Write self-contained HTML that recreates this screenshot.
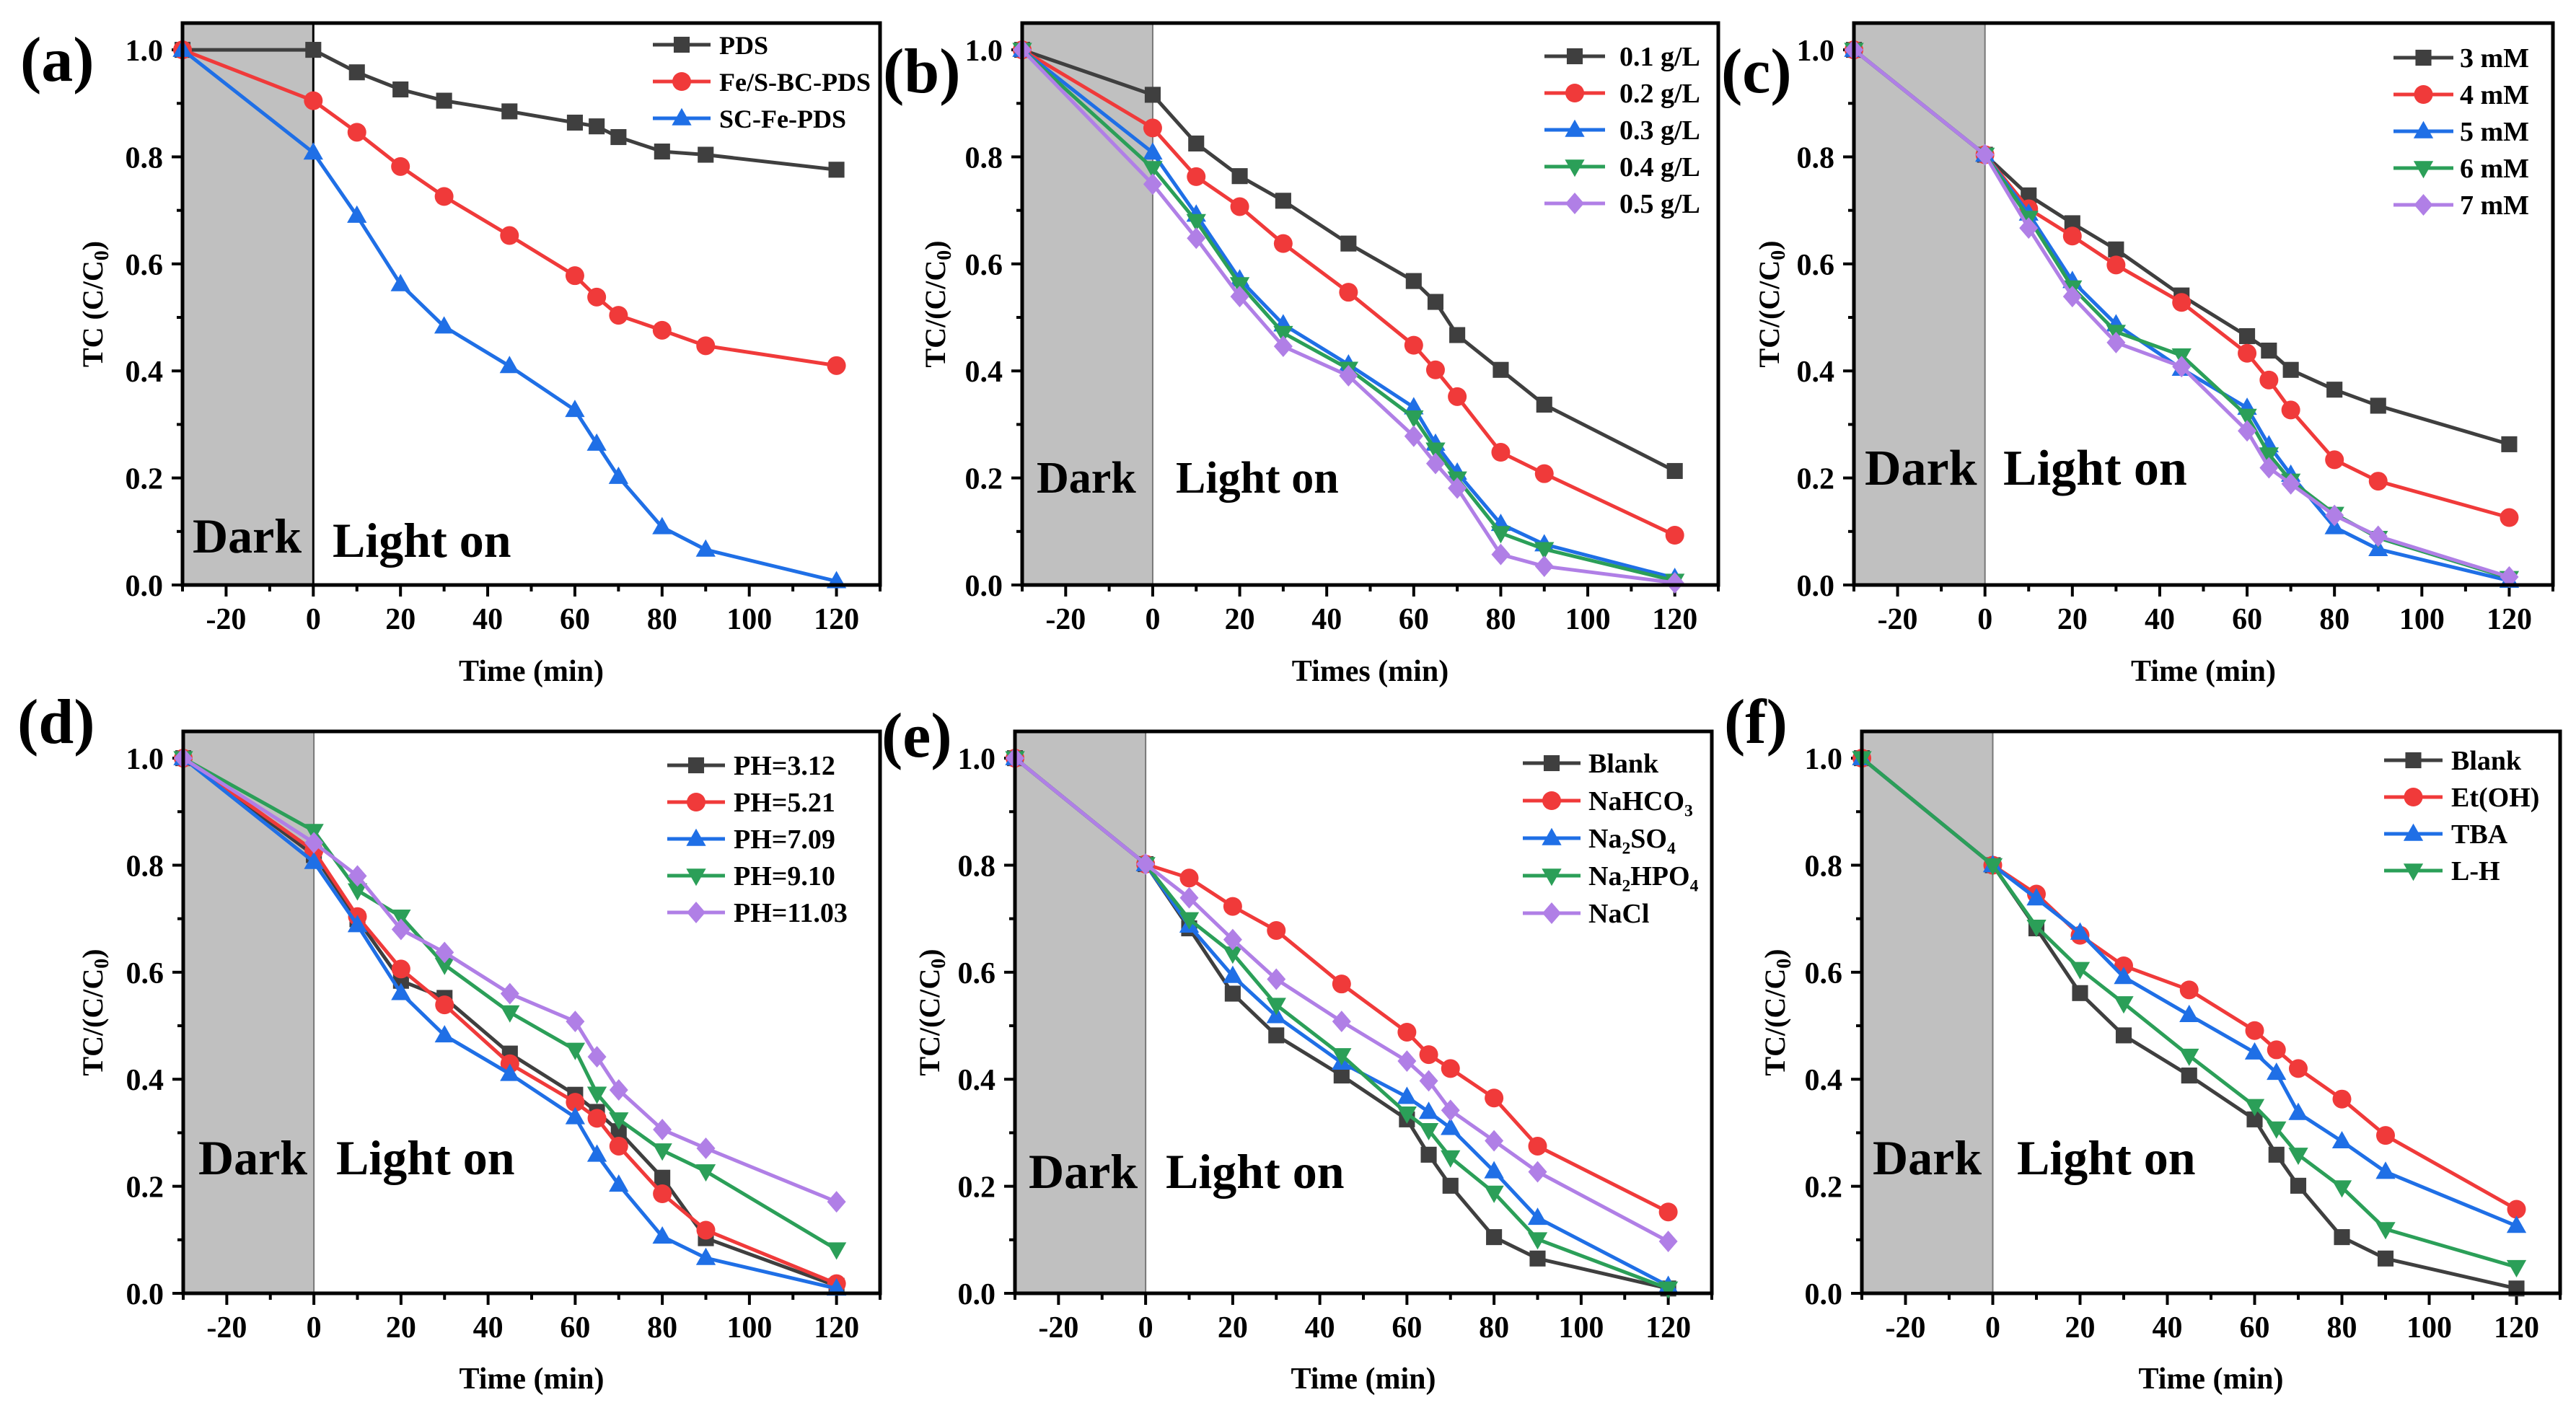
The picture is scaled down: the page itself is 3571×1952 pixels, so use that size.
<!DOCTYPE html>
<html><head><meta charset="utf-8">
<style>
html,body{margin:0;padding:0;background:#fff;}
svg{display:block;}
text{font-family:"Liberation Serif","Times New Roman",serif;font-weight:bold;fill:#000;}
</style></head>
<body>
<svg id="fig" width="3571" height="1952" viewBox="0 0 3571 1952" xmlns="http://www.w3.org/2000/svg"></svg>
<script>
// ---------- data ----------
const timePoints = [-30, 0, 10, 20, 30, 45, 60, 65, 70, 80, 90, 120];
const xTickLabels = ["-20", "0", "20", "40", "60", "80", "100", "120"];
const yTickLabels = ["0.0", "0.2", "0.4", "0.6", "0.8", "1.0"];

// (a)
const aPDS   = [1.0, 1.0, 0.958, 0.926, 0.905, 0.885, 0.864, 0.857, 0.837, 0.810, 0.804, 0.776];
const aFeSBC = [1.0, 0.905, 0.846, 0.782, 0.726, 0.653, 0.578, 0.538, 0.504, 0.476, 0.447, 0.410];
const aSCFe  = [1.0, 0.808, 0.690, 0.562, 0.483, 0.409, 0.327, 0.264, 0.202, 0.108, 0.066, 0.007];
// (b)
const b01 = [1.0, 0.916, 0.825, 0.764, 0.718, 0.638, 0.568, 0.529, 0.467, 0.402, 0.337, 0.213];
const b02 = [1.0, 0.854, 0.763, 0.707, 0.638, 0.547, 0.448, 0.402, 0.352, 0.248, 0.208, 0.093];
const b03 = [1.0, 0.808, 0.692, 0.571, 0.487, 0.412, 0.332, 0.264, 0.210, 0.114, 0.076, 0.013];
const b04 = [1.0, 0.779, 0.680, 0.562, 0.471, 0.404, 0.313, 0.253, 0.199, 0.097, 0.067, 0.008];
const b05 = [1.0, 0.749, 0.648, 0.539, 0.446, 0.391, 0.278, 0.227, 0.181, 0.057, 0.035, 0.004];
// (c)
const c3 = [1.0, 0.804, 0.728, 0.676, 0.627, 0.541, 0.465, 0.438, 0.402, 0.365, 0.335, 0.263];
const c4 = [1.0, 0.804, 0.703, 0.652, 0.598, 0.528, 0.433, 0.383, 0.327, 0.234, 0.194, 0.126];
const c5 = [1.0, 0.804, 0.694, 0.568, 0.487, 0.404, 0.331, 0.261, 0.206, 0.108, 0.067, 0.008];
const c6 = [1.0, 0.804, 0.686, 0.556, 0.473, 0.429, 0.316, 0.244, 0.195, 0.133, 0.088, 0.013];
const c7 = [1.0, 0.804, 0.667, 0.539, 0.453, 0.408, 0.288, 0.219, 0.189, 0.130, 0.091, 0.015];
// (d)
const dPH312  = [1.0, 0.819, 0.699, 0.584, 0.552, 0.448, 0.371, 0.339, 0.303, 0.216, 0.103, 0.014];
const dPH521  = [1.0, 0.827, 0.704, 0.606, 0.539, 0.429, 0.357, 0.327, 0.275, 0.186, 0.118, 0.018];
const dPH709  = [1.0, 0.806, 0.688, 0.561, 0.482, 0.410, 0.329, 0.259, 0.203, 0.106, 0.066, 0.009];
const dPH910  = [1.0, 0.864, 0.753, 0.704, 0.614, 0.525, 0.455, 0.373, 0.325, 0.267, 0.228, 0.082];
const dPH1103 = [1.0, 0.842, 0.780, 0.680, 0.637, 0.560, 0.508, 0.442, 0.380, 0.306, 0.271, 0.171];
// (e)
const eBlank  = [1.0, 0.802, 0.682, 0.560, 0.482, 0.407, 0.325, 0.259, 0.201, 0.105, 0.065, 0.009];
const eNaHCO3 = [1.0, 0.802, 0.776, 0.723, 0.678, 0.578, 0.488, 0.446, 0.420, 0.365, 0.275, 0.152];
const eNa2SO4 = [1.0, 0.802, 0.687, 0.593, 0.518, 0.431, 0.367, 0.339, 0.309, 0.228, 0.141, 0.014];
const eNa2HPO4= [1.0, 0.802, 0.699, 0.635, 0.539, 0.445, 0.336, 0.305, 0.254, 0.188, 0.101, 0.009];
const eNaCl   = [1.0, 0.802, 0.739, 0.661, 0.587, 0.508, 0.434, 0.397, 0.342, 0.285, 0.227, 0.097];
// (f)
const fBlank = [1.0, 0.80, 0.682, 0.561, 0.482, 0.407, 0.325, 0.259, 0.201, 0.105, 0.065, 0.009];
const fEtOH  = [1.0, 0.80, 0.746, 0.669, 0.612, 0.567, 0.491, 0.455, 0.420, 0.363, 0.295, 0.157];
const fTBA   = [1.0, 0.80, 0.738, 0.674, 0.591, 0.520, 0.450, 0.412, 0.337, 0.284, 0.227, 0.126];
const fLH    = [1.0, 0.80, 0.685, 0.606, 0.542, 0.444, 0.350, 0.308, 0.259, 0.198, 0.120, 0.049];

// ---------- styles ----------
const COL = {k:'#3f3f3f', r:'#f03a3a', b:'#1f6fe6', g:'#2b9f58', p:'#b07fe6'};
const SVGNS = 'http://www.w3.org/2000/svg';
const fig = document.getElementById('fig');
function mk(tag, attrs, parent){
  const e = document.createElementNS(SVGNS, tag);
  for (const k in attrs) e.setAttribute(k, attrs[k]);
  (parent||fig).appendChild(e);
  return e;
}

const panels = [
 {id:'a', L:253, R:1220, T:32, B:811, zeroCol:'#000',
  label:{x:28,y:112}, ytitle:'TC (C/C', ytx:128, xtitle:'Time (min)', xty:944,
  dark:{x:267,y:766,fs:68}, light:{x:461,y:772,fs:68},
  leg:{x1:905,x2:985,tx:997,y:62,gap:51,fs:36},
  series:[['PDS',aPDS,COL.k,'sq'],['Fe/S-BC-PDS',aFeSBC,COL.r,'ci'],['SC-Fe-PDS',aSCFe,COL.b,'tu']]},
 {id:'b', L:1417, R:2382, T:32, B:811, zeroCol:'#777',
  label:{x:1224,y:128}, ytitle:'TC/(C/C', ytx:1296, xtitle:'Times (min)', xty:944,
  dark:{x:1437,y:683,fs:62}, light:{x:1630,y:683,fs:62},
  leg:{x1:2141,x2:2225,tx:2245,y:78,gap:51,fs:38},
  series:[['0.1 g/L',b01,COL.k,'sq'],['0.2 g/L',b02,COL.r,'ci'],['0.3 g/L',b03,COL.b,'tu'],['0.4 g/L',b04,COL.g,'td'],['0.5 g/L',b05,COL.p,'di']]},
 {id:'c', L:2570, R:3539, T:32, B:811, zeroCol:'#777',
  label:{x:2386,y:128}, ytitle:'TC/(C/C', ytx:2452, xtitle:'Time (min)', xty:944,
  dark:{x:2585,y:672,fs:70}, light:{x:2777,y:672,fs:70},
  leg:{x1:3318,x2:3401,tx:3410,y:80,gap:51,fs:38},
  series:[['3 mM',c3,COL.k,'sq'],['4 mM',c4,COL.r,'ci'],['5 mM',c5,COL.b,'tu'],['6 mM',c6,COL.g,'td'],['7 mM',c7,COL.p,'di']]},
 {id:'d', L:254, R:1220, T:1014, B:1793, zeroCol:'#777',
  label:{x:24,y:1030}, ytitle:'TC/(C/C', ytx:128, xtitle:'Time (min)', xty:1925,
  dark:{x:275,y:1628,fs:68}, light:{x:466,y:1628,fs:68},
  leg:{x1:925,x2:1005,tx:1017,y:1061,gap:51,fs:38},
  series:[['PH=3.12',dPH312,COL.k,'sq'],['PH=5.21',dPH521,COL.r,'ci'],['PH=7.09',dPH709,COL.b,'tu'],['PH=9.10',dPH910,COL.g,'td'],['PH=11.03',dPH1103,COL.p,'di']]},
 {id:'e', L:1407, R:2373, T:1014, B:1793, zeroCol:'#777',
  label:{x:1222,y:1049}, ytitle:'TC/(C/C', ytx:1288, xtitle:'Time (min)', xty:1925,
  dark:{x:1426,y:1647,fs:68}, light:{x:1616,y:1647,fs:68},
  leg:{x1:2111,x2:2191,tx:2202,y:1058,gap:52,fs:38},
  series:[['Blank',eBlank,COL.k,'sq'],['NaHCO|3',eNaHCO3,COL.r,'ci'],['Na|2|SO|4',eNa2SO4,COL.b,'tu'],['Na|2|HPO|4',eNa2HPO4,COL.g,'td'],['NaCl',eNaCl,COL.p,'di']]},
 {id:'f', L:2581, R:3549, T:1014, B:1793, zeroCol:'#777',
  label:{x:2390,y:1030}, ytitle:'TC/(C/C', ytx:2460, xtitle:'Time (min)', xty:1925,
  dark:{x:2596,y:1628,fs:68}, light:{x:2796,y:1628,fs:68},
  leg:{x1:3305,x2:3386,tx:3398,y:1054,gap:51,fs:38},
  series:[['Blank',fBlank,COL.k,'sq'],['Et(OH)',fEtOH,COL.r,'ci'],['TBA',fTBA,COL.b,'tu'],['L-H',fLH,COL.g,'td']]}
];

function marker(g, shape, cx, cy, col, s){
  let m;
  if (shape==='sq') m = mk('rect',{x:cx-s*0.85,y:cy-s*0.85,width:s*1.7,height:s*1.7,fill:col},g);
  else if (shape==='ci') m = mk('circle',{cx:cx,cy:cy,r:s,fill:col},g);
  else if (shape==='tu') m = mk('polygon',{points:`${cx},${cy-s*1.1} ${cx+s*1.05},${cy+s*0.75} ${cx-s*1.05},${cy+s*0.75}`,fill:col},g);
  else if (shape==='td') m = mk('polygon',{points:`${cx},${cy+s*1.1} ${cx+s*1.05},${cy-s*0.75} ${cx-s*1.05},${cy-s*0.75}`,fill:col},g);
  else m = mk('polygon',{points:`${cx},${cy-s*1.15} ${cx+s*1.0},${cy} ${cx},${cy+s*1.15} ${cx-s*1.0},${cy}`,fill:col},g);
  
  
  return m;
}

function labelText(parent, str, x, y, fs){
  const t = mk('text',{x:x,y:y,'font-size':fs},parent);
  const parts = str.split('|');
  parts.forEach((p,i)=>{
    const sub = (i%2===1);
    const ts = mk('tspan',{},t);
    if (sub){ ts.setAttribute('font-size', fs*0.62); ts.setAttribute('dy', fs*0.22); }
    else if (i>0){ ts.setAttribute('dy', -fs*0.22); }
    ts.textContent = p;
  });
  return t;
}

panels.forEach(P=>{
  const g = mk('g',{});
  
  
  const xMin=-30, xMax=130, yMax=1.05;
  const sx = v => P.L + (v-xMin)/(xMax-xMin)*(P.R-P.L);
  const sy = v => P.B - v/yMax*(P.B-P.T);

  const dr = mk('rect',{x:sx(-30),y:P.T,width:sx(0)-sx(-30),height:P.B-P.T,fill:'#c0c0c0'},g);
   
  const zl = mk('line',{x1:sx(0),x2:sx(0),y1:P.T,y2:P.B,stroke:P.zeroCol,'stroke-width':P.id==='a'?3:2},g);
   

  for (let v=-30; v<=130; v+=10){
    const major = (v%20===0);
    const t = mk('line',{x1:sx(v),x2:sx(v),y1:P.B,y2:P.B+(major?16:9),stroke:'#000','stroke-width':4},g);
     
  }
  xTickLabels.forEach(s=>{
    const v = parseFloat(s);
    const t = mk('text',{x:sx(v),y:P.B+61,'font-size':42,'text-anchor':'middle'},g);
     
    t.textContent = s;
  });
  for (let i=0;i<=10;i++){
    const v=i/10, major=(i%2===0);
    const t = mk('line',{x1:P.L,x2:P.L-(major?15:8),y1:sy(v),y2:sy(v),stroke:'#000','stroke-width':4},g);
     
  }
  yTickLabels.forEach(s=>{
    const v = parseFloat(s);
    const t = mk('text',{x:P.L-27,y:sy(v)+15,'font-size':42,'text-anchor':'end'},g);
     
    t.textContent = s;
  });

  P.series.forEach(([name,vals,col,shape])=>{
    const sg = mk('g',{},g);
    
    
    const pts = vals.map((v,i)=>sx(timePoints[i])+','+sy(v)).join(' ');
    const pl = mk('polyline',{points:pts,fill:'none',stroke:col,'stroke-width':5,'stroke-linejoin':'round'},sg);
     
    vals.forEach((v,i)=>marker(sg,shape,sx(timePoints[i]),sy(v),col,13));
  });

  const fr = mk('rect',{x:P.L,y:P.T,width:P.R-P.L,height:P.B-P.T,fill:'none',stroke:'#000','stroke-width':5},g);
   

  const dk = mk('text',{x:P.dark.x,y:P.dark.y,'font-size':P.dark.fs},g);
   
  dk.textContent='Dark';
  const lt = mk('text',{x:P.light.x,y:P.light.y,'font-size':P.light.fs},g);
   
  lt.textContent='Light on';

  const lg = mk('g',{},g);
   
  P.series.forEach(([name,vals,col,shape],i)=>{
    const y = P.leg.y + i*P.leg.gap;
    const eg = mk('g',{},lg);
     
    mk('line',{x1:P.leg.x1,x2:P.leg.x2,y1:y,y2:y,stroke:col,'stroke-width':5},eg);
    marker(eg,shape,(P.leg.x1+P.leg.x2)/2,y,col,13);
    labelText(eg,name,P.leg.tx,y+13,P.leg.fs);
  });

  const xt = mk('text',{x:(P.L+P.R)/2,y:P.xty,'font-size':42,'text-anchor':'middle'},g);
   
  xt.textContent = P.xtitle;
  const cy = (P.T+P.B)/2;
  const yt = mk('text',{x:P.ytx,y:cy,'font-size':40,'text-anchor':'middle',transform:`rotate(-90 ${P.ytx} ${cy})`,dy:14},g);
   
  const t1 = mk('tspan',{},yt); t1.textContent = P.ytitle;
  const t2 = mk('tspan',{'font-size':28,dy:8},yt); t2.textContent = '0';
  const t3 = mk('tspan',{dy:-8},yt); t3.textContent = ')';

  const pl = mk('text',{x:P.label.x,y:P.label.y,'font-size':88},g);
   
  pl.textContent = '('+P.id+')';
});
</script>
</body></html>
